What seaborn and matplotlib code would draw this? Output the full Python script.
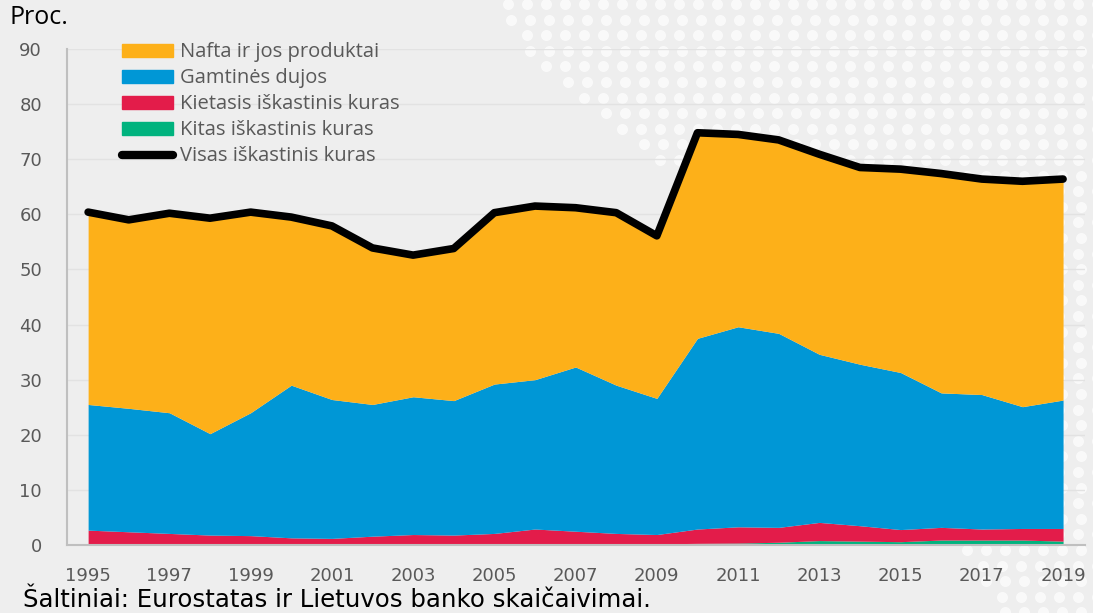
import numpy as np
import pandas as pd
import matplotlib
matplotlib.use('Agg')
import matplotlib.pyplot as plt
import seaborn as sns

years = list(range(1995, 2020))
total = [60.4, 59.0, 60.2, 59.3, 60.4, 59.5, 57.9, 53.9, 52.6, 53.8, 60.3, 61.5, 61.2,
         60.3, 56.1, 74.8, 74.5, 73.5, 70.9, 68.5, 68.2, 67.4, 66.4, 66.0, 66.4]
gas_top = [25.5, 24.8, 24.0, 20.2, 24.0, 29.0, 26.4, 25.5, 26.9, 26.2, 29.2, 30.0, 32.3,
           29.0, 26.6, 37.5, 39.6, 38.4, 34.6, 32.8, 31.3, 27.6, 27.3, 25.1, 26.3]
solid_top = [2.7, 2.4, 2.1, 1.8, 1.7, 1.3, 1.2, 1.6, 1.9, 1.8, 2.1, 2.9, 2.5,
             2.1, 1.9, 2.9, 3.3, 3.2, 4.1, 3.5, 2.8, 3.2, 2.9, 3.0, 3.0]
other = [0.2, 0.2, 0.2, 0.2, 0.2, 0.2, 0.2, 0.2, 0.2, 0.2, 0.2, 0.2, 0.2,
         0.2, 0.2, 0.3, 0.35, 0.5, 0.8, 0.7, 0.6, 0.9, 0.9, 0.9, 0.7]

labels = ['Nafta ir jos produktai', 'Gamtinės dujos', 'Kietasis iškastinis kuras',
          'Kitas iškastinis kuras', 'Visas iškastinis kuras']
colors = ['#fdb019', '#0097d6', '#e31c4a', '#00b37e']

df = pd.DataFrame({'year': years, 'total': total, 'gas_top': gas_top,
                   'solid_top': solid_top, 'other': other})
df['solid'] = df['solid_top'] - df['other']
df['gas'] = df['gas_top'] - df['solid_top']
df['oil'] = df['total'] - df['gas_top']

sns.set_style('white')
plt.rcParams['font.family'] = ['DejaVu Sans']

W, H = 1093, 613
bg = '#eeeeee'
fig = plt.figure(figsize=(W / 100, H / 100), dpi=100, facecolor=bg)

# decorative dotted background (top right)
bg_ax = fig.add_axes([0, 0, 1, 1], zorder=0)
bg_ax.set_xlim(0, W)
bg_ax.set_ylim(H, 0)
bg_ax.axis('off')
gx, gy = np.meshgrid(np.arange(508, W + 10, 19.0), np.arange(4, H, 15.6))
gx = gx + (np.round(gy / 15.6) % 2) * 3
edge = np.interp(gy, [0, 60, 155, 300, 450, 613], [500, 530, 650, 800, 930, 990])
keep = gx >= edge
bg_ax.scatter(gx[keep], gy[keep], s=62, marker='o', color='#fbfbfb', alpha=0.9,
              linewidths=0)

ax = fig.add_axes([67 / W, 1 - 545 / H, 1018 / W, 496 / H], zorder=1)
ax.set_facecolor('none')

ax.stackplot(df['year'], df['other'], df['solid'], df['gas'], df['oil'],
             colors=[colors[3], colors[2], colors[1], colors[0]], linewidth=0, zorder=2)
sns.lineplot(x='year', y='total', data=df, ax=ax, color='black', linewidth=5.5,
             solid_capstyle='round', solid_joinstyle='round', zorder=3, legend=False)

ax.set_xlim(1994.48, 2019.54)
ax.set_ylim(0, 90)
ax.set_xticks(range(1995, 2020, 2))
ax.set_yticks(range(0, 91, 10))
ax.grid(axis='y', color='#e2e2e2', linewidth=1)
ax.set_axisbelow(True)
ax.tick_params(axis='both', length=0, labelsize=13, labelcolor='#595959')
ax.tick_params(axis='x', pad=16)
ax.tick_params(axis='y', pad=18)
ax.set_xlabel('')
ax.set_ylabel('')
for s in ['top', 'right']:
    ax.spines[s].set_visible(False)
for s in ['left', 'bottom']:
    ax.spines[s].set_color('#bfbfbf')
    ax.spines[s].set_linewidth(1.5)

handles = [plt.Rectangle((0, 0), 1, 1, color=c) for c in colors]
handles.append(plt.Line2D([0], [0], color='black', linewidth=6, solid_capstyle='round'))
ax.legend(handles, labels, loc='upper left', bbox_to_anchor=(0.046, 1.03), frameon=False,
          prop={'family': 'Open Sans', 'size': 14.5}, labelcolor='#595959',
          handlelength=2.55, handleheight=0.62, handletextpad=0.35, labelspacing=0.3,
          borderaxespad=0)

fig.text(10 / W, 1 - 5 / H, 'Proc.', ha='left', va='top', fontsize=18,
         family='Open Sans', color='black')
fig.text(23 / W, 1 - 607 / H, 'Šaltiniai: Eurostatas ir Lietuvos banko skaičaivimai.',
         ha='left', va='baseline', fontsize=17.6, family='DejaVu Sans', color='black')

fig.savefig('out.png', dpi=100, facecolor=bg)
